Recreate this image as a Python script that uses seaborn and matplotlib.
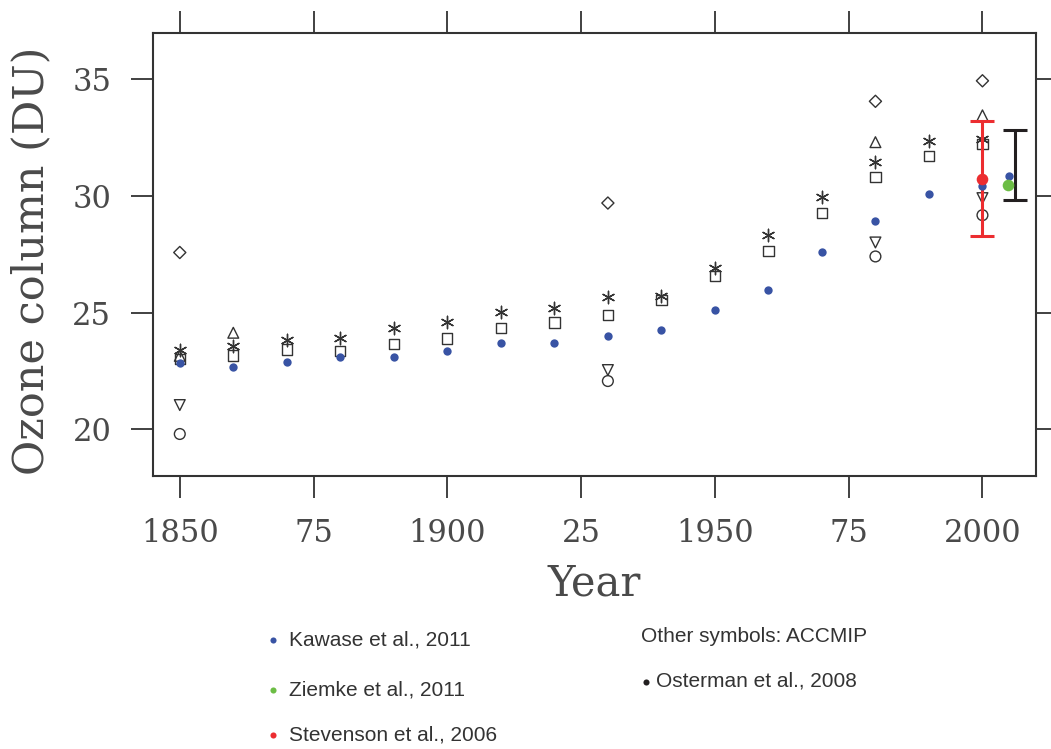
import matplotlib
matplotlib.use("Agg")
import matplotlib.pyplot as plt
import seaborn as sns
import pandas as pd

# ---------------- data ----------------
kawase_years = [1850, 1860, 1870, 1880, 1890, 1900, 1910, 1920, 1930, 1940,
                1950, 1960, 1970, 1980, 1990, 2000, 2005]
kawase_vals = [22.85, 22.68, 22.88, 23.08, 23.12, 23.34, 23.71, 23.72, 23.98, 24.25,
               25.13, 25.98, 27.58, 28.95, 30.08, 30.44, 30.88]

decade_years = [1850, 1860, 1870, 1880, 1890, 1900, 1910, 1920, 1930, 1940,
                1950, 1960, 1970, 1980, 1990, 2000]
asterisk_vals = [23.39, 23.56, 23.82, 23.93, 24.35, 24.61, 25.03, 25.20, 25.66, 25.70,
                 26.92, 28.35, 29.98, 31.48, 32.37, 32.46]
square_vals = [23.02, 23.16, 23.42, 23.35, 23.67, 23.89, 24.33, 24.58, 24.91, 25.53,
               26.56, 27.63, 29.28, 30.82, 31.71, 32.23]

diamond_years = [1850, 1930, 1980, 2000]
diamond_vals = [27.58, 29.70, 34.06, 34.94]
tri_up_years = [1850, 1860, 1980, 2000]
tri_up_vals = [23.15, 24.14, 32.31, 33.46]
tri_down_years = [1850, 1930, 1980, 2000]
tri_down_vals = [21.04, 22.54, 28.01, 29.91]
circle_years = [1850, 1930, 1980, 2000]
circle_vals = [19.80, 22.07, 27.41, 29.18]

ziemke_year = [2004.8]
ziemke_val = [30.49]
stevenson_year = [2000]
stevenson_val = [30.75]
stevenson_err = [2.48]
osterman_year = [2006]
osterman_val = [31.33]
osterman_err = [1.5]

xtick_vals = [1850, 1875, 1900, 1925, 1950, 1975, 2000]
xtick_labels = ["1850", "75", "1900", "25", "1950", "75", "2000"]
ytick_vals = [20, 25, 30, 35]

legend_left = ["Kawase et al., 2011", "Ziemke et al., 2011", "Stevenson et al., 2006"]
legend_right = ["Other symbols: ACCMIP", "Osterman et al., 2008"]

# ---------------- style ----------------
BLUE = "#3853A4"
GREEN = "#6CBD45"
RED = "#EC2D30"
BLACK = "#231F20"
GRAY = "#333333"
TXT = "#4a4a4a"

sns.set_theme(style="white")
plt.rcParams["font.family"] = ["DejaVu Serif", "DejaVu Sans"]
leg_family = ["Liberation Sans", "DejaVu Sans"]
leg_size = 15

fig = plt.figure(figsize=(10.51, 7.49), dpi=100)
ax = fig.add_axes([0.1456, 0.3645, 0.8401, 0.5918])

def open_markers(years, vals, marker, size):
    df = pd.DataFrame({"year": years, "val": vals})
    sns.scatterplot(data=df, x="year", y="val", marker=marker, s=size,
                    facecolors="none", edgecolor=GRAY, linewidth=1.0, ax=ax,
                    zorder=3)

def line_markers(years, vals, marker, size):
    df = pd.DataFrame({"year": years, "val": vals})
    sns.scatterplot(data=df, x="year", y="val", marker=marker, s=size,
                    color=GRAY, linewidth=1.0, ax=ax, zorder=3)

open_markers(diamond_years, diamond_vals, "D", 38)
open_markers(tri_up_years, tri_up_vals, "^", 60)
open_markers(tri_down_years, tri_down_vals, "v", 60)
open_markers(circle_years, circle_vals, "o", 60)
open_markers(decade_years, square_vals, "s", 55)
line_markers(decade_years, asterisk_vals, (6, 2, 0), 80)

# error bars
ax.errorbar(stevenson_year, stevenson_val, yerr=stevenson_err, fmt="none",
            ecolor=RED, elinewidth=2.2, capsize=8.5, capthick=2.2, zorder=4)
ax.errorbar(osterman_year, osterman_val, yerr=osterman_err, fmt="none",
            ecolor=BLACK, elinewidth=2.2, capsize=8.5, capthick=2.2, zorder=4)

kdf = pd.DataFrame({"year": kawase_years, "val": kawase_vals})
sns.scatterplot(data=kdf, x="year", y="val", color=BLUE, s=36, linewidth=0,
                ax=ax, zorder=5)
zdf = pd.DataFrame({"year": ziemke_year, "val": ziemke_val})
sns.scatterplot(data=zdf, x="year", y="val", color=GREEN, s=70, linewidth=0,
                ax=ax, zorder=6)
sdf = pd.DataFrame({"year": stevenson_year, "val": stevenson_val})
sns.scatterplot(data=sdf, x="year", y="val", color=RED, s=70, linewidth=0,
                ax=ax, zorder=6)

ax.set_xlim(1845, 2010)
ax.set_ylim(18, 37)
ax.set_xticks(xtick_vals)
ax.set_xticklabels(xtick_labels)
ax.set_yticks(ytick_vals)
ax.set_yticklabels([str(v) for v in ytick_vals])
ax.tick_params(direction="out", length=16, width=1.3, color=GRAY,
               top=True, right=True, bottom=True, left=True,
               labelsize=22, labelcolor=TXT)
ax.tick_params(axis="x", pad=14)
ax.tick_params(axis="y", pad=14)
for sp in ax.spines.values():
    sp.set_color(GRAY)
    sp.set_linewidth(1.5)
ax.set_xlabel("Year", fontsize=30, color=TXT, labelpad=10)
ax.set_ylabel("Ozone column (DU)", fontsize=31, color=TXT, labelpad=8)
ax.yaxis.set_label_coords(-0.114, 0.485)
ax.grid(False)

# legend as figure text
W, H = 1051, 749
def fx(px):
    return px / W
def fy(py):
    return 1 - py / H

left_colors = [BLUE, GREEN, RED]
left_rows = [640, 690, 735]
for lab, col, yy in zip(legend_left, left_colors, left_rows):
    fig.lines.append(plt.Line2D([fx(272.5)], [fy(yy)], marker="o", ms=4.4,
                                color=col, mec="none", transform=fig.transFigure))
    fig.text(fx(289), fy(yy), lab, ha="left", va="center", color="#333333",
             fontsize=leg_size, family=leg_family)

fig.text(fx(641), fy(637), legend_right[0], ha="left", va="center", color="#333333",
         fontsize=leg_size, family=leg_family)
fig.lines.append(plt.Line2D([fx(645.5)], [fy(682)], marker="o", ms=4.4,
                            color=BLACK, mec="none", transform=fig.transFigure))
fig.text(fx(656), fy(681), legend_right[1], ha="left", va="center", color="#333333",
         fontsize=leg_size, family=leg_family)

fig.savefig("out.png", dpi=100)
